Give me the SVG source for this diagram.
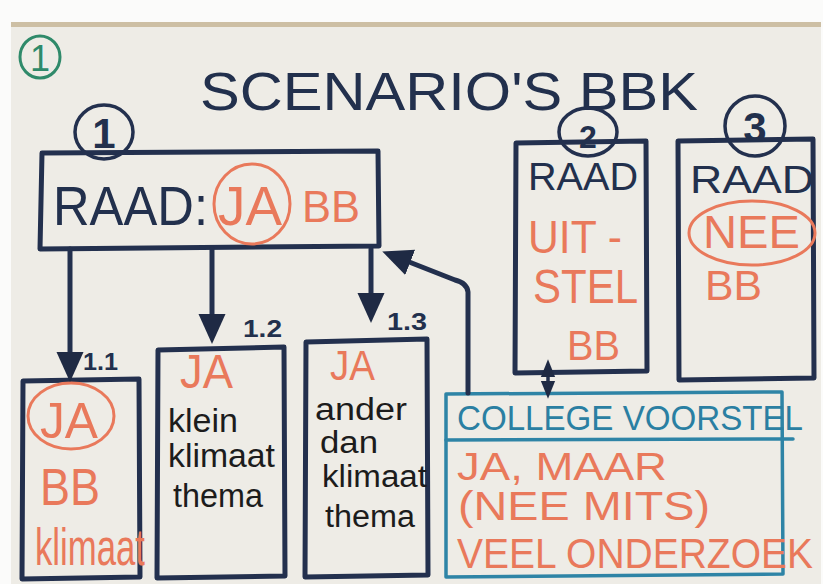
<svg xmlns="http://www.w3.org/2000/svg" width="823" height="584" viewBox="0 0 823 584">
<style>
.navy{fill:none;stroke:#23304e;stroke-width:5;stroke-linecap:round;stroke-linejoin:round}
.teal{fill:none;stroke:#2e84a6;stroke-width:3.5;stroke-linecap:round;stroke-linejoin:round}
.oc{fill:none;stroke:#e9795b;stroke-width:3}
.nc{fill:none;stroke:#23304e;stroke-width:3.5}
.t{font-family:"Liberation Sans","DejaVu Sans",sans-serif}
.tn{fill:#22304d}
.to{fill:#e9795b}
.tb{fill:#1c1c1c}
.tt{fill:#2a7fa2}
.conn{fill:none;stroke:#23304e;stroke-width:5;stroke-linecap:round;stroke-linejoin:round}
</style>
<defs>
<marker id="arr" viewBox="0 0 20 20" refX="8" refY="10" markerWidth="30" markerHeight="30" orient="auto" markerUnits="userSpaceOnUse">
<path d="M0,1 L20,10 L0,19 Z" fill="#1f2a44"/>
</marker>
<marker id="arrs" viewBox="0 0 20 20" refX="8" refY="10" markerWidth="18" markerHeight="18" orient="auto-start-reverse" markerUnits="userSpaceOnUse">
<path d="M0,2 L20,10 L0,18 Z" fill="#1f2a44"/>
</marker>
</defs>

<rect x="0" y="0" width="823" height="584" fill="#fbfbfa"/>
<rect x="11" y="22" width="810" height="562" fill="#eeece6"/>
<rect x="11" y="22" width="810" height="5" fill="#cdbfa4"/>

<g id="marker-label">
<ellipse cx="40" cy="57" rx="20" ry="21" fill="none" stroke="#2f8a6a" stroke-width="3"/>
<text class="t" x="40" y="71" font-size="36" text-anchor="middle" fill="#2f8a6a">1</text>
</g>

<g id="title">
<text class="t tn" x="200" y="110" font-size="53" textLength="498" lengthAdjust="spacingAndGlyphs">SCENARIO'S BBK</text>
</g>

<g id="scenario-1">
<path class="navy" d="M42,153 L378,151 L379,246 L40,249 Z"/>
<ellipse class="nc" cx="104" cy="132" rx="29" ry="27"/>
<text class="t tn" x="104" y="148" font-size="42" font-weight="bold" text-anchor="middle">1</text>
<text class="t tn" x="53" y="225" font-size="56" textLength="155" lengthAdjust="spacingAndGlyphs">RAAD:</text>
<ellipse class="oc" cx="252" cy="204" rx="38" ry="40"/>
<text class="t to" x="218" y="225" font-size="56" textLength="64" lengthAdjust="spacingAndGlyphs">JA</text>
<text class="t to" x="302" y="222" font-size="45" textLength="58" lengthAdjust="spacingAndGlyphs">BB</text>
</g>

<g id="scenario-1-1">
<path class="navy" d="M23,381 L139,379 L140,577 L22,579 Z"/>
<ellipse class="oc" cx="71" cy="416" rx="43" ry="33"/>
<text class="t to" x="40" y="438" font-size="50" textLength="58" lengthAdjust="spacingAndGlyphs">JA</text>
<text class="t to" x="40" y="505" font-size="51" textLength="60" lengthAdjust="spacingAndGlyphs">BB</text>
<text class="t to" x="35" y="565" font-size="52" textLength="110" lengthAdjust="spacingAndGlyphs">klimaat</text>
<text class="t tn" x="83" y="370" font-size="24" font-weight="bold" textLength="35" lengthAdjust="spacingAndGlyphs">1.1</text>
</g>

<g id="scenario-1-2">
<path class="navy" d="M158,350 L284,347 L285,576 L157,578 Z"/>
<text class="t to" x="180" y="388" font-size="48" textLength="53" lengthAdjust="spacingAndGlyphs">JA</text>
<text class="t tb" x="168" y="432" font-size="33" textLength="70" lengthAdjust="spacingAndGlyphs">klein</text>
<text class="t tb" x="168" y="467" font-size="33" textLength="107" lengthAdjust="spacingAndGlyphs">klimaat</text>
<text class="t tb" x="173" y="507" font-size="33" textLength="90" lengthAdjust="spacingAndGlyphs">thema</text>
<text class="t tn" x="243" y="337" font-size="24" font-weight="bold" textLength="39" lengthAdjust="spacingAndGlyphs">1.2</text>
</g>

<g id="scenario-1-3">
<path class="navy" d="M306,342 L427,339 L428,575 L305,577 Z"/>
<text class="t to" x="330" y="380" font-size="42" textLength="45" lengthAdjust="spacingAndGlyphs">JA</text>
<text class="t tb" x="315" y="420" font-size="31" textLength="92" lengthAdjust="spacingAndGlyphs">ander</text>
<text class="t tb" x="320" y="453" font-size="31" textLength="58" lengthAdjust="spacingAndGlyphs">dan</text>
<text class="t tb" x="322" y="487" font-size="31" textLength="105" lengthAdjust="spacingAndGlyphs">klimaat</text>
<text class="t tb" x="325" y="527" font-size="31" textLength="90" lengthAdjust="spacingAndGlyphs">thema</text>
<text class="t tn" x="387" y="330" font-size="24" font-weight="bold" textLength="40" lengthAdjust="spacingAndGlyphs">1.3</text>
</g>

<g id="scenario-2">
<path class="navy" d="M516,143 L646,141 L647,371 L515,373 Z"/>
<ellipse class="nc" cx="588" cy="132" rx="29" ry="24"/>
<text class="t tn" x="588" y="148" font-size="32" font-weight="bold" text-anchor="middle">2</text>
<text class="t tn" x="528" y="190" font-size="39" textLength="110" lengthAdjust="spacingAndGlyphs">RAAD</text>
<text class="t to" x="528" y="253" font-size="46" textLength="94" lengthAdjust="spacingAndGlyphs">UIT -</text>
<text class="t to" x="533" y="303" font-size="48" textLength="105" lengthAdjust="spacingAndGlyphs">STEL</text>
<text class="t to" x="567" y="360" font-size="42" textLength="53" lengthAdjust="spacingAndGlyphs">BB</text>
</g>

<g id="scenario-3">
<path class="navy" d="M678,141 L813,139 L814,378 L679,380 Z"/>
<ellipse class="nc" cx="755" cy="126" rx="30" ry="30"/>
<text class="t tn" x="755" y="142" font-size="42" font-weight="bold" text-anchor="middle">3</text>
<text class="t tn" x="690" y="193" font-size="39" textLength="124" lengthAdjust="spacingAndGlyphs">RAAD</text>
<ellipse class="oc" cx="752" cy="233" rx="63" ry="32"/>
<text class="t to" x="703" y="248" font-size="46" textLength="97" lengthAdjust="spacingAndGlyphs">NEE</text>
<text class="t to" x="705" y="300" font-size="42" textLength="57" lengthAdjust="spacingAndGlyphs">BB</text>
</g>

<g id="college-voorstel">
<path class="teal" d="M446,394 L782,392 L783,574 L446,577 Z"/>
<path class="teal" d="M446,440 L793,439"/>
<text class="t tt" x="457" y="430" font-size="35" textLength="346" lengthAdjust="spacingAndGlyphs">COLLEGE VOORSTEL</text>
<text class="t to" x="457" y="480" font-size="39" textLength="210" lengthAdjust="spacingAndGlyphs">JA, MAAR</text>
<text class="t to" x="458" y="520" font-size="40" textLength="252" lengthAdjust="spacingAndGlyphs">(NEE MITS)</text>
<text class="t to" x="457" y="568" font-size="42" textLength="356" lengthAdjust="spacingAndGlyphs">VEEL ONDERZOEK</text>
</g>

<g id="connectors">
<path class="conn" d="M70,249 L70,364" marker-end="url(#arr)"/>
<path class="conn" d="M212,249 L212,326" marker-end="url(#arr)"/>
<path class="conn" d="M371,249 L371,305" marker-end="url(#arr)"/>
<path class="conn" d="M468,393 L468,292 Q467,283 455,280 L399,258" marker-end="url(#arr)"/>
<path class="conn" style="stroke-width:3.5" d="M548,388 L548,370" marker-start="url(#arrs)" marker-end="url(#arrs)"/>
</g>
</svg>
